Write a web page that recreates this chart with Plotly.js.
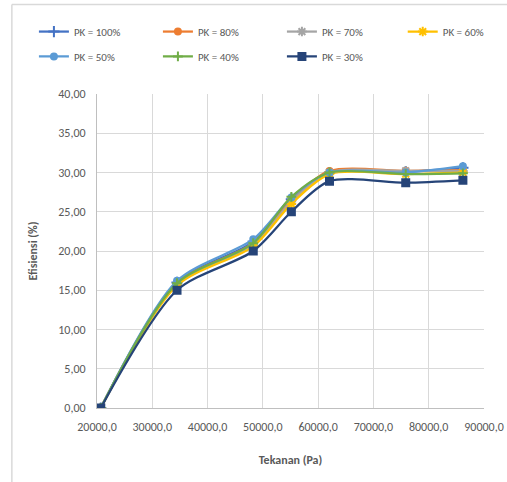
<!DOCTYPE html>
<html>
<head>
<meta charset="utf-8">
<script src="https://cdn.plot.ly/plotly-3.0.1.min.js"></script>
<style>
  html, body { margin: 0; padding: 0; background: #ffffff; }
  #chart { width: 507px; height: 482px; }
</style>
</head>
<body>
<div id="chart"></div>
<script>
// Tekanan (Pa) on the x axis
const tekanan = [20684, 34474, 48263, 55158, 62053, 75842, 86184];

// Efisiensi (%) for each PK setting
const pk100 = [0, 16.0, 21.2, 26.6, 30.0, 30.1, 30.6];
const pk80  = [0, 15.9, 21.0, 26.5, 30.2, 30.2, 30.3];
const pk70  = [0, 15.8, 20.8, 26.3, 30.0, 30.2, 30.2];
const pk60  = [0, 15.6, 20.6, 26.0, 29.8, 29.8, 30.0];
const pk50  = [0, 16.2, 21.5, 26.8, 30.0, 30.0, 30.8];
const pk40  = [0, 15.9, 21.0, 26.9, 30.0, 29.8, 29.9];
const pk30  = [0, 15.0, 20.0, 25.0, 28.9, 28.7, 29.0];

const seriesNames = ['PK = 100%', 'PK = 80%', 'PK = 70%', 'PK = 60%', 'PK = 50%', 'PK = 40%', 'PK = 30%'];
const seriesData = [pk100, pk80, pk70, pk60, pk50, pk40, pk30];

const yTicks = [0, 5, 10, 15, 20, 25, 30, 35, 40];
const xTicks = [20000, 30000, 40000, 50000, 60000, 70000, 80000, 90000];

const colors  = ['#4472C4', '#ED7D31', '#A5A5A5', '#FFC000', '#5B9BD5', '#70AD47', '#264478'];
const symbols = ['cross-thin-open', 'circle', 'asterisk-open', 'asterisk-open', 'circle', 'cross-thin-open', 'square'];
const sizes   = [8, 6, 8, 8, 6, 7, 7];
// legend grid: three entries + one extra column on top, three entries below
const legendRow = ['legend', 'legend', 'legend', 'legend3', 'legend2', 'legend2', 'legend2'];

const FONT = 'Carlito, "Liberation Sans Narrow", Lato, sans-serif';

const traces = seriesData.map((ys, i) => ({
  type: 'scatter',
  mode: 'lines+markers',
  name: seriesNames[i],
  legend: legendRow[i],
  x: tekanan,
  y: ys,
  line: { color: colors[i], width: 2.25, shape: 'spline', smoothing: 0.8 },
  marker: {
    symbol: symbols[i],
    size: sizes[i],
    color: colors[i],
    line: { color: colors[i], width: 2 }
  }
}));

const legendStyle = {
  orientation: 'h',
  xanchor: 'left',
  yanchor: 'top',
  entrywidth: 79,
  entrywidthmode: 'pixels',
  itemwidth: 30,
  tracegroupgap: 0,
  font: { family: FONT, size: 11, color: '#595959' },
  bgcolor: 'rgba(0,0,0,0)'
};

const layout = {
  width: 507,
  height: 482,
  paper_bgcolor: '#ffffff',
  plot_bgcolor: '#ffffff',
  separators: ',.',
  margin: { l: 97, r: 23, t: 94, b: 74, autoexpand: false },
  font: { family: FONT, size: 11, color: '#595959' },
  showlegend: true,
  legend: Object.assign({}, legendStyle, { x: -0.163, y: 1.245 }),
  legend3: Object.assign({}, legendStyle, { x: 0.79, y: 1.245 }),
  legend2: Object.assign({}, legendStyle, { x: -0.163, y: 1.166 }),
  xaxis: {
    range: [20000, 90000],
    tickvals: xTicks,
    tickformat: '.1f',
    showgrid: true,
    gridcolor: '#D9D9D9',
    gridwidth: 1,
    zeroline: false,
    showline: true,
    linecolor: '#BFBFBF',
    linewidth: 1,
    ticks: '',
    ticklabelstandoff: 8,
    tickfont: { family: FONT, size: 12, color: '#595959' },
    title: { text: 'Tekanan (Pa)', font: { family: FONT, size: 12, color: '#595959', weight: 'bold' }, standoff: 22 }
  },
  yaxis: {
    range: [0, 40],
    tickvals: yTicks,
    tickformat: '.2f',
    showgrid: true,
    gridcolor: '#D9D9D9',
    gridwidth: 1,
    zeroline: false,
    showline: true,
    linecolor: '#BFBFBF',
    linewidth: 1,
    ticks: '',
    ticklabelstandoff: 8,
    tickfont: { family: FONT, size: 12, color: '#595959' },
    title: { text: 'Efisiensi (%)', font: { family: FONT, size: 12, color: '#595959', weight: 'bold' }, standoff: 18 }
  },
  shapes: [
    // outer chart frame
    { type: 'line', xref: 'paper', yref: 'paper', x0: -0.22, x1: 1.1, y0: 1.285, y1: 1.285,
      line: { color: '#D9D9D9', width: 1.5 } },
    { type: 'line', xref: 'paper', yref: 'paper', x0: -0.22, x1: -0.22, y0: 1.285, y1: -0.3,
      line: { color: '#D9D9D9', width: 1.5 } }
  ]
};

Plotly.newPlot('chart', traces, layout, { displayModeBar: false, staticPlot: true });
</script>
</body>
</html>
